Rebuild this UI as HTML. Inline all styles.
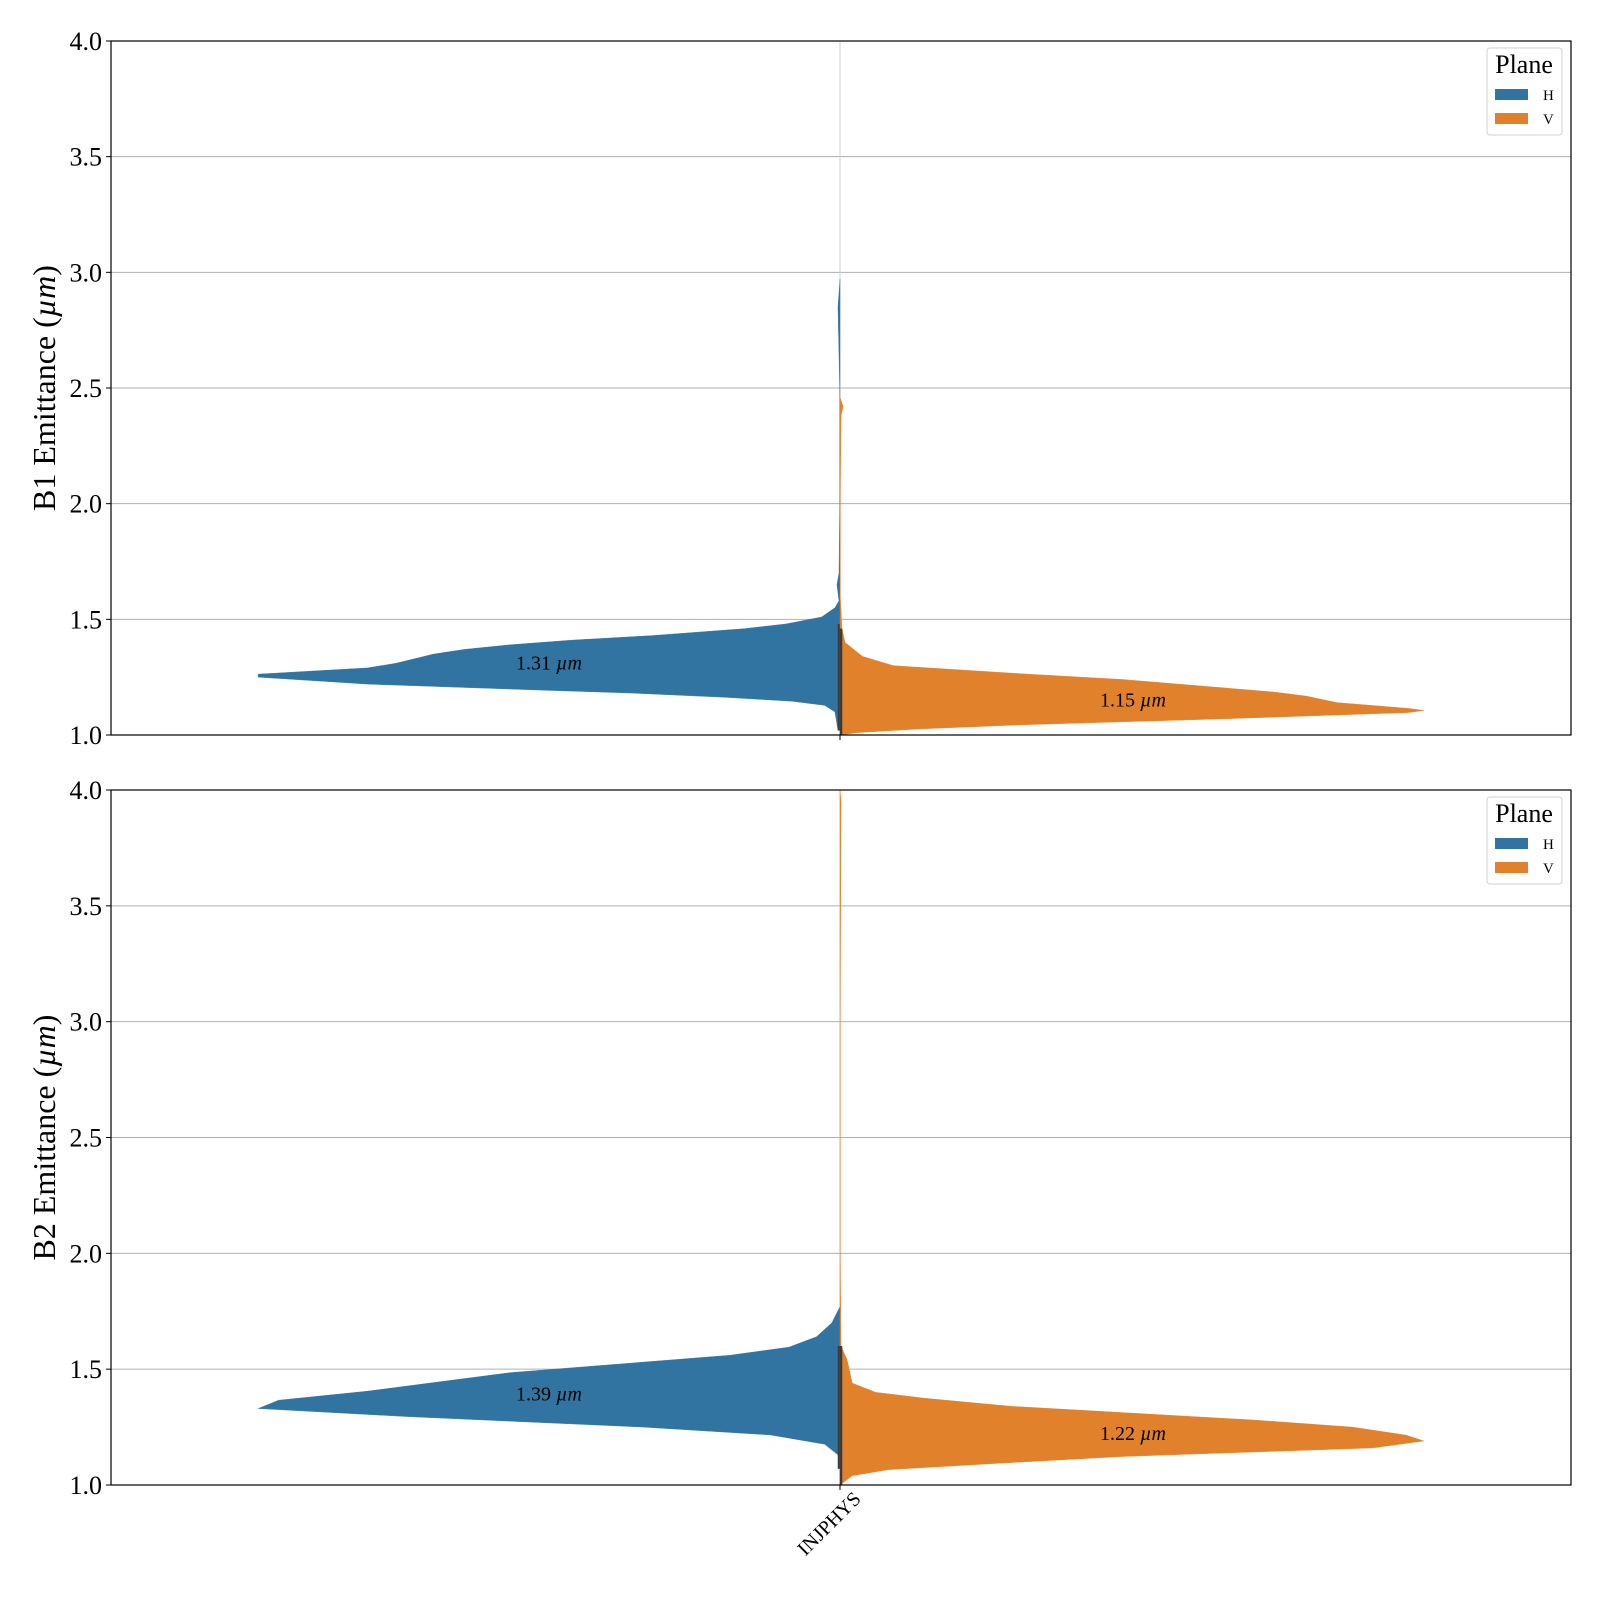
<!DOCTYPE html>
<html><head><meta charset="utf-8">
<style>
html,body{margin:0;padding:0;background:#fff;}
svg{display:block;font-family:"Liberation Serif","DejaVu Serif",serif;}
</style></head>
<body>
<svg id="chart" width="1600" height="1600" viewBox="0 0 1600 1600" xmlns="http://www.w3.org/2000/svg"></svg>
<script>
// ---- data (emittance in µm, density in relative units) ----
const yTicks = [1.0, 1.5, 2.0, 2.5, 3.0, 3.5, 4.0];
const yTickLabels = ["1.0","1.5","2.0","2.5","3.0","3.5","4.0"];
const category = "INJPHYS";
const planes = ["H","V"];

const b1H_e = [1.02,1.10,1.128,1.146,1.163,1.181,1.194,1.22,1.25,1.263,1.29,1.31,1.35,1.37,1.39,1.41,1.43,1.46,1.48,1.51,1.55,1.58,1.65,1.70,2.00,2.50,2.85,2.97];
const b1H_d = [2,5,15,47,113,203,293,463,570,570,463,435,398,368,323,263,183,93,53,18,5,1,3,1,0.3,0.3,2,0];
const b1V_e = [1.0,1.01,1.026,1.044,1.07,1.097,1.106,1.115,1.14,1.168,1.185,1.24,1.265,1.29,1.30,1.34,1.40,1.46,1.60,2.00,2.38,2.42,2.46];
const b1V_d = [0,17,77,177,377,557,572,557,487,457,427,277,177,87,52,22,5,2,0.3,0.3,1,3,0];
const b1Median = [1.31, 1.15];

const b2H_e = [1.07,1.10,1.13,1.176,1.216,1.25,1.295,1.33,1.366,1.405,1.485,1.56,1.595,1.64,1.70,1.77];
const b2H_d = [1,1,2,15,68,193,423,570,550,463,323,108,50,23,8,0];
const b2V_e = [1.0,1.04,1.066,1.093,1.123,1.16,1.19,1.215,1.25,1.28,1.34,1.375,1.40,1.44,1.54,1.60,2.00,3.00,3.95,4.0];
const b2V_d = [0,12,47,152,277,522,572,555,502,407,167,82,35,12,7,1,0.3,0.3,1,0];
const b2Median = [1.39, 1.22];

const panels = [
  {name:"b1", label:"B1 Emittance (", top:41, bottom:735, H:[b1H_e,b1H_d], V:[b1V_e,b1V_d], med:b1Median, box:[[1.02,1.48],[1.0,1.46]]},
  {name:"b2", label:"B2 Emittance (", top:790, bottom:1485, H:[b2H_e,b2H_d], V:[b2V_e,b2V_d], med:b2Median, box:[[1.07,1.6],[1.0,1.6]]}
];
const X0 = 111, X1 = 1571, CX = 840, DSCALE = 1.0207;
const colors = {H:"#3274a1", V:"#e1812c"};
const NS = "http://www.w3.org/2000/svg";
const svg = document.getElementById("chart");
function mk(tag, attrs, parent){
  const el = document.createElementNS(NS, tag);
  for (const k in attrs) el.setAttribute(k, attrs[k]);
  (parent||svg).appendChild(el);
  return el;
}

panels.forEach((p, pi) => {
  const yScale = v => p.bottom - (v - 1.0) / 3.0 * (p.bottom - p.top);
  const g = mk("g", {});
  
  
  yTicks.forEach((t, i) => {
    const y = yScale(t);
    const gl = mk("line", {x1:X0, x2:X1, y1:y, y2:y, stroke:"#b0b0b0", "stroke-width":1}, g);
    
    
    const tk = mk("line", {x1:X0-5, x2:X0, y1:y, y2:y, stroke:"#000", "stroke-width":1}, g);
    
    
    const tl = mk("text", {x:X0-9, y:y+9, "text-anchor":"end", "font-size":26, fill:"#000"}, g);
    tl.textContent = yTickLabels[i];
    
    
  });
  const vg = mk("line", {x1:CX, x2:CX, y1:p.top, y2:p.bottom, stroke:"#cfcfcf", "stroke-width":1}, g);
  
  

  planes.forEach((pl, k) => {
    const [es, ds] = p[pl];
    const sgn = pl === "H" ? -1 : 1;
    let d = "M" + CX + "," + yScale(es[0]);
    for (let i = 0; i < es.length; i++) d += " L" + (CX + sgn * ds[i] * DSCALE) + "," + yScale(es[i]);
    d += " L" + CX + "," + yScale(es[es.length-1]) + " Z";
    const path = mk("path", {d:d, fill:colors[pl], stroke:colors[pl], "stroke-width":0.4}, g);
    
    
    const b = p.box[k];
    const bx = mk("line", {x1:CX + sgn*1, x2:CX + sgn*1, y1:yScale(b[0]), y2:yScale(b[1]), stroke:"#3a3a3a", "stroke-width":2.5}, g);
    
    
    const tx = pl === "H" ? 549 : 1133;
    const t = mk("text", {x:tx, y:yScale(p.med[k]) + 6, "text-anchor":"middle", "font-size":20, fill:"#000"}, g);
    t.innerHTML = p.med[k].toFixed(2) + " <tspan font-style='italic'>µm</tspan>";
    
    
  });

  const fr = mk("rect", {x:X0, y:p.top, width:X1-X0, height:p.bottom-p.top, fill:"none", stroke:"#000", "stroke-width":1.2}, g);
  
  
  const xt = mk("line", {x1:CX, x2:CX, y1:p.bottom, y2:p.bottom+5, stroke:"#000", "stroke-width":1}, g);
  
  

  const cy = (p.top + p.bottom) / 2;
  const yl = mk("text", {x:0, y:0, transform:"translate(55," + cy + ") rotate(-90)", "text-anchor":"middle", "font-size":32, fill:"#000"}, g);
  yl.innerHTML = p.label + "<tspan font-style='italic'>µm</tspan>)";
  
  

  const lg = mk("g", {}, g);
  
  
  const ly = p.top + 7;
  mk("rect", {x:1487, y:ly, width:75, height:87, rx:3, fill:"#fff", stroke:"#d0d0d0", "stroke-width":1}, lg);
  const lt = mk("text", {x:1524, y:ly+25, "text-anchor":"middle", "font-size":26, fill:"#000"}, lg);
  lt.textContent = "Plane";
  
  
  planes.forEach((pl, k) => {
    const yy = ly + 41 + k*24;
    const sw = mk("rect", {x:1495, y:yy, width:33, height:11, fill:colors[pl]}, lg);
    
    
    const tt = mk("text", {x:1543, y:yy+11, "font-size":15, fill:"#000"}, lg);
    tt.textContent = pl;
    
    
  });
});

const xl = mk("text", {x:0, y:0, transform:"translate(862,1500) rotate(-45)", "text-anchor":"end", "font-size":20, fill:"#000"});
xl.textContent = category;


</script>
</body></html>
